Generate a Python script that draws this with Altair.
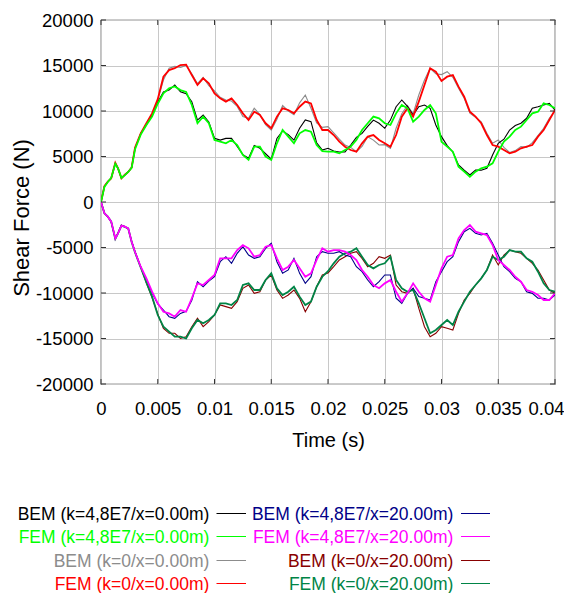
import altair as alt
import pandas as pd

# ---------------- data ----------------
T_EARLY = [0.0, 0.0003, 0.0006, 0.0009, 0.00126, 0.0015, 0.0018, 0.0021, 0.0024, 0.0027]
T_MAIN = [round(0.003 + 0.0005 * i, 5) for i in range(75)]
TIME = T_EARLY + T_MAIN

BEM_K48_X0 = [0, 1700, 2250, 2600, 4250, 3650, 2600, 2950, 3350, 3800,
              5900, 7500, 8500, 9500, 11000, 12090, 12300, 12850, 12120, 11900,
              11030, 9000, 9560, 8800, 7000, 6800, 6990, 7000, 6100, 5200,
              4800, 6200, 5900, 5300, 4700, 6990, 7800, 7400, 6800, 8100,
              9010, 8830, 6500, 5700, 5900, 5600, 5500, 5500, 6260, 7100,
              7540, 8300, 9000, 8650, 8100, 9000, 10470, 11210, 10500, 9560,
              10470, 10660, 10300, 8460, 7180, 6200, 5500, 4070, 3500, 2970,
              3500, 3500, 3700, 5170, 6450, 6900, 7910, 8400, 8650, 9200,
              10300, 10470, 10660, 10840, 10100]
FEM_K48_X0 = [0, 1650, 2200, 2650, 4200, 3700, 2650, 2950, 3300, 3750,
              5800, 7400, 8460, 9380, 10800, 11940, 12500, 12700, 12300, 12100,
              10660, 8650, 9380, 8650, 6810, 6630, 6450, 6810, 6260, 5170,
              4630, 6080, 6080, 5000, 4620, 6450, 7910, 7180, 6450, 7550,
              7910, 7730, 6260, 5600, 5530, 5530, 5350, 5710, 6080, 6810,
              7910, 8650, 9380, 9200, 8650, 8460, 9740, 10660, 10300, 8830,
              9380, 10110, 10660, 9740, 6630, 6080, 5530, 3880, 3330, 2780,
              3330, 3700, 3880, 4250, 5530, 6630, 7180, 7910, 8280, 9010,
              9740, 9930, 10840, 10660, 10300]
BEM_K0_X0 = [0, 1700, 2200, 2650, 4250, 3750, 2650, 2950, 3300, 3750,
             5900, 7500, 8600, 9700, 11200, 13400, 14700, 14900, 14800, 15000,
             14100, 13000, 13700, 12800, 12200, 11500, 11200, 11100, 10500, 9400,
             9200, 10300, 9600, 8500, 7900, 9100, 10600, 10000, 9600, 10900,
             11760, 10300, 8700, 8200, 8280, 7600, 6900, 6260, 6000, 5530,
             6100, 7180, 6800, 6260, 6300, 5900, 8100, 9700, 10600, 9700,
             11760, 13410, 14700, 14100, 14000, 14320, 13700, 12500, 11400, 9750,
             9300, 8800, 7550, 6450, 6810, 6000, 5450, 5650, 6080, 6000,
             6530, 7300, 8100, 9200, 10000]
FEM_K0_X0 = [0, 1750, 2250, 2600, 4300, 3700, 2600, 3000, 3300, 3800,
             6000, 7550, 8650, 9740, 11300, 13770, 14500, 14700, 15050, 15100,
             13950, 12860, 13590, 13040, 11940, 11390, 11030, 11390, 10660, 9740,
             9010, 9930, 9560, 8650, 8100, 9380, 10300, 10110, 9740, 10470,
             11030, 10840, 9010, 7910, 7910, 7360, 6630, 6080, 5710, 5530,
             6450, 7180, 7360, 6810, 6450, 6080, 7360, 9380, 10300, 9380,
             11030, 12860, 14690, 14320, 13300, 13770, 13950, 12670, 11570, 9930,
             9380, 8650, 7360, 6260, 6080, 5710, 5350, 5530, 5900, 6080,
             6260, 7180, 7910, 9010, 10110]
BEM_K48_X20 = [0, -1200, -1650, -2200, -4050, -3400, -2550, -2700, -2950, -4300,
               -5450, -7150, -8500, -10000, -11200, -11870, -12600, -12780, -12240, -12000,
               -10800, -8760, -9310, -8700, -8210, -6560, -6010, -6740, -5640, -4910,
               -5830, -6190, -6010, -5090, -4540, -6560, -7840, -7470, -6190, -7840,
               -8940, -8210, -6010, -5460, -5640, -5640, -5460, -5830, -6010, -7110,
               -7660, -8570, -9310, -8760, -8020, -8020, -10580, -11130, -10040, -9480,
               -10400, -10580, -10770, -8760, -7660, -6560, -6010, -4360, -3260, -2900,
               -3440, -3630, -3440, -4540, -5830, -7110, -7660, -8390, -8760, -9860,
               -10040, -10580, -10580, -10770, -10220]
FEM_K48_X20 = [0, -1240, -1610, -2160, -4000, -3440, -2600, -2710, -2900, -4360,
               -5500, -7110, -8390, -9860, -11130, -12060, -12240, -12600, -11870, -12060,
               -10580, -8940, -9120, -8570, -8020, -6190, -6190, -6190, -5280, -4730,
               -5090, -6010, -5830, -4910, -4730, -6190, -7470, -7110, -6370, -7290,
               -8210, -7840, -6370, -5090, -5460, -5280, -5280, -5460, -5830, -6370,
               -7470, -8210, -9120, -9480, -8940, -8570, -9860, -10950, -10040, -8940,
               -9860, -10580, -10950, -9120, -7290, -6010, -5830, -3990, -3080, -2530,
               -3260, -3440, -3630, -4730, -6370, -6920, -7470, -8210, -8760, -9670,
               -9860, -10220, -10770, -10770, -10040]
BEM_K0_X20 = [0, -1220, -1620, -2200, -4000, -3400, -2550, -2700, -2950, -4350,
              -5500, -7150, -8900, -10500, -12300, -13880, -14430, -14430, -14980, -14800,
              -13700, -12780, -13700, -13150, -12420, -11320, -11500, -11690, -10950, -9490,
              -9120, -10040, -9860, -8570, -8020, -9670, -10590, -10220, -9670, -10590,
              -12060, -10950, -9310, -8020, -7800, -7110, -6370, -6010, -5640, -5460,
              -6190, -7110, -6740, -6010, -6190, -5830, -9120, -9860, -10040, -9480,
              -11680, -13700, -14800, -14430, -13700, -13880, -14070, -12240, -10770, -10040,
              -9120, -8390, -7470, -5830, -6920, -5830, -5280, -5460, -5640, -6190,
              -6740, -7470, -8570, -9670, -10040]
FEM_K0_X20 = [0, -1250, -1600, -2150, -4050, -3450, -2600, -2750, -2900, -4400,
              -5550, -7200, -8830, -10400, -12420, -13700, -14250, -14800, -14800, -15000,
              -13880, -12970, -13330, -12970, -12420, -11130, -11130, -11320, -10770, -9120,
              -8940, -9670, -9670, -8570, -7840, -9480, -10220, -9860, -9310, -10400,
              -11320, -10950, -9310, -8210, -7600, -6740, -6010, -5640, -5460, -5090,
              -6010, -6920, -7290, -6920, -6740, -6010, -8570, -9480, -9860, -9670,
              -11130, -12780, -14430, -14070, -13520, -12970, -13520, -12060, -10950, -9860,
              -9120, -8390, -7470, -6010, -6370, -6010, -5280, -5460, -5460, -6190,
              -6560, -7660, -8940, -9670, -9860]

NAMES = ["BEM (k=4,8E7/x=0.00m)", "FEM (k=4,8E7/x=0.00m)",
         "BEM (k=0/x=0.00m)", "FEM (k=0/x=0.00m)",
         "BEM (k=4,8E7/x=20.00m)", "FEM (k=4,8E7/x=20.00m)",
         "BEM (k=0/x=20.00m)", "FEM (k=0/x=20.00m)"]
VALUES = [BEM_K48_X0, FEM_K48_X0, BEM_K0_X0, FEM_K0_X0,
          BEM_K48_X20, FEM_K48_X20, BEM_K0_X20, FEM_K0_X20]
COLORS = ["#000000", "#00ff00", "#8c8c8c", "#ff0000",
          "#000088", "#ff00ff", "#880000", "#008446"]

X_TICKS = [0, 0.005, 0.01, 0.015, 0.02, 0.025, 0.03, 0.035, 0.04]
Y_TICKS = [-20000, -15000, -10000, -5000, 0, 5000, 10000, 15000, 20000]

# ---------------- layout ----------------
W, H = 454, 364
FONT = "Liberation Sans"
FRAME = "#333333"

x_enc = alt.X("t:Q",
              scale=alt.Scale(domain=[0, 0.04], nice=False, zero=False),
              axis=alt.Axis(values=X_TICKS, title="Time (s)", grid=True, ticks=False,
                            domain=False, labelPadding=15, labelFontSize=18.5,
                            labelFlush=False, labelOverlap=False,
                            labelAlign=alt.condition("datum.value >= 0.04",
                                                     alt.value("right"), alt.value("center")),
                            labelOffset=alt.condition("datum.value >= 0.04",
                                                      alt.value(9), alt.value(0)),
                            labelExpr="datum.value == 0 ? '0' : format(datum.value, '~g')",
                            titleFontSize=20, titleFontWeight="normal", titlePadding=13,
                            labelColor="#000000", titleColor="#000000"))
y_enc = alt.Y("v:Q",
              scale=alt.Scale(domain=[-20000, 20000], nice=False, zero=False),
              axis=alt.Axis(values=Y_TICKS, title="Shear Force (N)", grid=True, ticks=False,
                            domain=False, labelPadding=8, labelFontSize=18.5,
                            labelOverlap=False, labelFlush=False,
                            labelExpr="'' + datum.value",
                            titleFontSize=22, titleFontWeight="normal",
                            titleX=-72.7, titleY=197.5, titleBaseline="alphabetic",
                            labelColor="#000000", titleColor="#000000"))

layers = []
# BEM (thin) first, FEM (thick) on top
draw_order = [2, 0, 6, 4, 3, 1, 7, 5]
for i in draw_order:
    df = pd.DataFrame({"t": TIME, "v": VALUES[i]})
    is_fem = NAMES[i].startswith("FEM")
    layers.append(
        alt.Chart(df).mark_line(color=COLORS[i], strokeWidth=1.8 if is_fem else 1.1,
                                clip=True)
        .encode(x=x_enc, y=y_enc)
    )

# inward ticks on all four sides
xt = pd.DataFrame({"t": X_TICKS})
yt = pd.DataFrame({"v": Y_TICKS})
layers.append(alt.Chart(xt).mark_rule(color=FRAME, strokeWidth=1)
              .encode(x=x_enc, y=alt.value(0), y2=alt.value(5)))
layers.append(alt.Chart(xt).mark_rule(color=FRAME, strokeWidth=1)
              .encode(x=x_enc, y=alt.value(H), y2=alt.value(H - 5)))
layers.append(alt.Chart(yt).mark_rule(color=FRAME, strokeWidth=1)
              .encode(y=y_enc, x=alt.value(0), x2=alt.value(5)))
layers.append(alt.Chart(yt).mark_rule(color=FRAME, strokeWidth=1)
              .encode(y=y_enc, x=alt.value(W), x2=alt.value(W - 5)))

# custom legend below the plot: label right-aligned, line sample on the right
legend_order = [0, 1, 2, 3, 4, 5, 6, 7]
col_text_right = [108.3, 352.3]
col_line = [(115.5, 145.0), (360.0, 389.0)]
row_base = [500.0, 523.0, 547.0, 570.0]
for k, i in enumerate(legend_order):
    col, row = divmod(k, 4)
    tdf = pd.DataFrame({"label": [NAMES[i]]})
    layers.append(
        alt.Chart(tdf).mark_text(align="right", baseline="alphabetic", fontSize=17.5,
                                 font=FONT, color=COLORS[i])
        .encode(x=alt.value(col_text_right[col]), y=alt.value(row_base[row]),
                text="label:N")
    )
    rdf = pd.DataFrame({"sample": [NAMES[i] + " line"]})
    layers.append(
        alt.Chart(rdf).mark_rule(stroke=COLORS[i], color=COLORS[i], strokeWidth=1)
        .encode(x=alt.value(col_line[col][0]), x2=alt.value(col_line[col][1]),
                y=alt.value(row_base[row] - 6.5))
    )

chart = (
    alt.layer(*layers)
    .properties(width=W, height=H, autosize="none",
                padding={"left": 93, "top": 12, "right": 9, "bottom": 209})
    .configure(font=FONT)
    .configure_view(stroke=FRAME, strokeWidth=1.2)
    .configure_axis(gridColor="#c8c8c8", gridWidth=1, labelFont=FONT, titleFont=FONT)
)

chart.save("out.html", embed_options={"renderer": "svg", "actions": False})
